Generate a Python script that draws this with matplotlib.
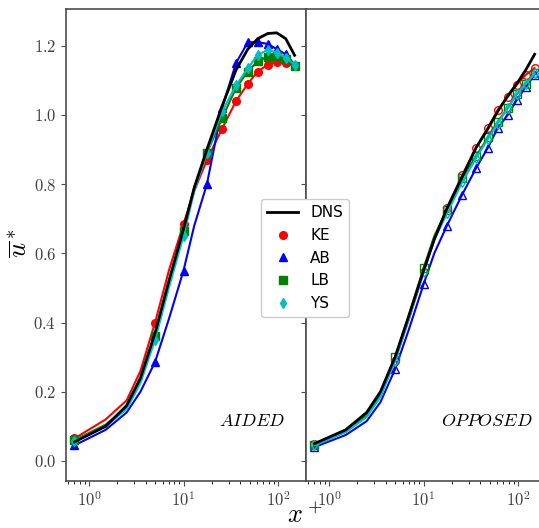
import matplotlib
matplotlib.use("Agg")
import matplotlib.pyplot as plt
import numpy as np

plt.rcParams['font.family'] = 'serif'
plt.rcParams['font.serif'] = ['cmr10', 'DejaVu Serif']
plt.rcParams['mathtext.fontset'] = 'cm'
plt.rcParams['axes.formatter.use_mathtext'] = True

# x+ positions (same for every series)
xp = [0.7, 1.5, 2.5, 3.5, 5, 7, 10, 13, 17.7, 25.6, 36, 48, 61, 78, 97, 121, 150]
mark_idx = [0, 4, 6, 8, 9, 10, 11, 12, 13, 14, 15, 16]

# aided
aid_dns = [0.055, 0.10, 0.16, 0.24, 0.37, 0.52, 0.67, 0.79, 0.90, 1.025, 1.13, 1.19, 1.22, 1.235, 1.237, 1.22, 1.172]
aid_ke = [0.065, 0.12, 0.175, 0.26, 0.40, 0.55, 0.685, 0.78, 0.87, 0.96, 1.04, 1.09, 1.125, 1.145, 1.153, 1.15, 1.14]
aid_ab = [0.045, 0.09, 0.14, 0.20, 0.286, 0.41, 0.55, 0.68, 0.80, 1.02, 1.15, 1.21, 1.21, 1.205, 1.19, 1.175, 1.145]
aid_lb = [0.06, 0.105, 0.155, 0.23, 0.36, 0.51, 0.665, 0.79, 0.89, 0.99, 1.078, 1.125, 1.155, 1.168, 1.17, 1.16, 1.14]
aid_ys = [0.058, 0.10, 0.15, 0.225, 0.35, 0.50, 0.65, 0.78, 0.89, 1.01, 1.085, 1.135, 1.173, 1.188, 1.18, 1.165, 1.145]

# opposed
opp_dns = [0.05, 0.09, 0.14, 0.20, 0.30, 0.42, 0.55, 0.64, 0.73, 0.82, 0.905, 0.96, 1.01, 1.055, 1.09, 1.13, 1.175]
opp_ke = [0.05, 0.085, 0.13, 0.19, 0.29, 0.41, 0.545, 0.64, 0.73, 0.825, 0.905, 0.962, 1.014, 1.052, 1.087, 1.116, 1.135]
opp_ab = [0.04, 0.075, 0.115, 0.17, 0.265, 0.38, 0.51, 0.60, 0.68, 0.769, 0.846, 0.905, 0.962, 1.0, 1.043, 1.081, 1.116]
opp_lb = [0.045, 0.085, 0.13, 0.19, 0.30, 0.42, 0.557, 0.65, 0.725, 0.818, 0.88, 0.935, 0.98, 1.02, 1.06, 1.09, 1.12]
opp_ys = [0.045, 0.083, 0.127, 0.185, 0.29, 0.41, 0.545, 0.64, 0.715, 0.805, 0.875, 0.93, 0.975, 1.02, 1.06, 1.09, 1.12]

names = ['KE', 'AB', 'LB', 'YS']
colors = ['r', 'b', 'g', 'c']
markers = ['o', '^', 's', 'd']

fig = plt.figure(figsize=(5.39, 5.28), dpi=100)
ax1 = fig.add_axes([0.1224, 0.0896, 0.4453, 0.8928])
ax2 = fig.add_axes([0.5677, 0.0896, 0.4453, 0.8928], sharey=ax1)

x = np.array(xp)
handles = []
for ax, dns, models, filled in [(ax1, aid_dns, [aid_ke, aid_ab, aid_lb, aid_ys], True),
                                (ax2, opp_dns, [opp_ke, opp_ab, opp_lb, opp_ys], False)]:
    h_dns, = ax.plot(x, dns, color='k', lw=2, label='DNS', zorder=4)
    for y, nm, c, m in zip(models, names, colors, markers):
        y = np.array(y)
        ax.plot(x, y, color=c, lw=1.5, zorder=3)
        hm, = ax.plot(x[mark_idx], y[mark_idx], ls='', marker=m, color=c, ms=5.5,
                      mfc=c if filled else 'none', mew=1.0, label=nm, zorder=3)
        if filled:
            handles.append(hm)
    if filled:
        handles.insert(0, h_dns)
    ax.set_xscale('log')
    ax.set_xlim(0.57, 198)
    ax.set_ylim(-0.057, 1.305)
    for s in ax.spines.values():
        s.set_color('0.3')
        s.set_linewidth(1.2)
    ax.tick_params(colors='0.3', labelcolor='0.25', labelsize=12)

ax2.spines['right'].set_visible(False)
ax2.tick_params(axis='y', labelleft=False)
ax1.set_yticks([0.0, 0.2, 0.4, 0.6, 0.8, 1.0, 1.2])

ax1.text(0.9125, 0.127, '$AIDED$', transform=ax1.transAxes, ha='right', va='center', fontsize=13)
ax2.text(0.946, 0.127, '$OPPOSED$', transform=ax2.transAxes, ha='right', va='center', fontsize=13)

fig.text(0.565, 0.024, '$x^+$', ha='center', va='center', fontsize=19)
fig.text(0.037, 0.54, r'$\overline{u}^*$', ha='center', va='center', fontsize=19, rotation=90)

leg = fig.legend(handles=handles, labels=['DNS'] + names, loc='center',
                 bbox_to_anchor=(0.566, 0.511), prop={'family': 'DejaVu Sans', 'size': 11},
                 framealpha=1.0, edgecolor='0.8', handlelength=2.0)

fig.savefig('out.png', dpi=100)
